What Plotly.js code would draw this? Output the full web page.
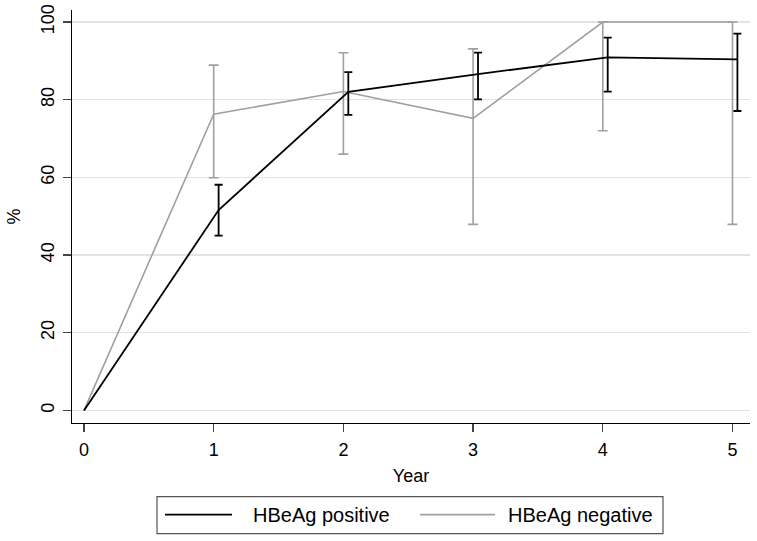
<!DOCTYPE html>
<html><head><meta charset="utf-8">
<script src="https://cdn.plot.ly/plotly-3.0.1.min.js"></script>
<style>html,body{margin:0;padding:0;background:#fff}#c{width:757px;height:541px}</style>
</head><body><div id="c"></div>
<script>
const years = [0, 1, 2, 3, 4, 5];
const seriesNames = ["HBeAg positive", "HBeAg negative"];
const posValues = [0, 51.6, 82.0, 86.6, 90.9, 90.4];
const posUpper  = [0, 58.1, 87.1, 92.1, 96.0, 97.0];
const posLower  = [0, 45.0, 76.1, 80.1, 82.1, 77.1];
const negValues = [0, 76.3, 82.1, 75.2, 100, 100];
const negUpper  = [0, 88.9, 92.1, 93.1, 100, 100];
const negLower  = [0, 59.9, 66.0, 47.9, 72.0, 47.9];
const yTicks = [0, 20, 40, 60, 80, 100];
const xTicks = [0, 1, 2, 3, 4, 5];

const posOffset = 0.038; // horizontal dodge of the positive series
const posX = years.map(v => v === 0 ? 0 : v + posOffset);
const BLACK = '#000000', GRAY = '#a0a0a0';

function errs(vals, up, lo, color, thick, w) {
  const a = up.map((u,i)=>u-vals[i]);
  const m = vals.map((v,i)=>v-lo[i]);
  a[0] = NaN; m[0] = NaN;
  return {type:'data', symmetric:false, array:a, arrayminus:m,
    color: color, thickness: thick, width: w, visible: true};
}
const traces = [
  {x: years, y: negValues, mode:'lines', type:'scatter', name: seriesNames[1],
   line:{color:GRAY, width:1.6}, error_y: errs(negValues, negUpper, negLower, GRAY, 1.6, 5), hoverinfo:'skip'},
  {x: posX, y: posValues, mode:'lines', type:'scatter', name: seriesNames[0],
   line:{color:BLACK, width:1.8}, error_y: errs(posValues, posUpper, posLower, BLACK, 1.8, 4), hoverinfo:'skip'}
];

const W = 678, H = 413.3, L = 72, T = 10;
const px = v => (v - L) / W;
const py = v => (T + H - v) / H;
const font = {family:'Liberation Sans, Arial, sans-serif', color:'#000'};
const f = s => Object.assign({size:s}, font);

const layout = {
  width:757, height:541,
  margin:{l:72, r:7, t:10, b:118, pad:0},
  paper_bgcolor:'#fff', plot_bgcolor:'#fff',
  showlegend:false,
  font: f(18),
  xaxis:{range:[-0.0925, 5.135], tickvals:xTicks, ticktext:xTicks.map(String),
    showgrid:false, zeroline:false, showline:true, linecolor:'#000', linewidth:1.3,
    ticks:'outside', ticklen:8, tickwidth:1.3, tickcolor:'#444',
    ticklabelstandoff:2,
    tickfont:f(18),
    title:{text:'Year', font:f(18), standoff:10}},
  yaxis:{range:[-3.24, 103.1], tickvals:yTicks, ticktext:yTicks.map(String),
    tickangle:-90, showgrid:true, gridcolor:'#e3e3e3', gridwidth:1.5,
    zeroline:false, showline:true, linecolor:'#000', linewidth:1.3,
    ticks:'outside', ticklen:8, tickwidth:1.3, tickcolor:'#444',
    ticklabelstandoff:2,
    tickfont:f(18),
    title:{text:'%', font:f(18), standoff:12}},
  shapes:[
    {type:'rect', xref:'paper', yref:'paper', x0:px(157), x1:px(663), y0:py(497), y1:py(534),
     line:{color:'#555', width:1.2}, fillcolor:'rgba(0,0,0,0)'},
    {type:'line', xref:'paper', yref:'paper', x0:px(165), x1:px(232), y0:py(515), y1:py(515),
     line:{color:BLACK, width:1.8}},
    {type:'line', xref:'paper', yref:'paper', x0:px(420), x1:px(495), y0:py(515), y1:py(515),
     line:{color:GRAY, width:1.6}}
  ],
  annotations:[
    {xref:'paper', yref:'paper', x:px(251), y:py(515), xanchor:'left', yanchor:'middle',
     text:seriesNames[0], showarrow:false, font:f(20)},
    {xref:'paper', yref:'paper', x:px(506), y:py(515), xanchor:'left', yanchor:'middle',
     text:seriesNames[1], showarrow:false, font:f(20)}
  ]
};
Plotly.newPlot('c', traces, layout, {staticPlot:true, displayModeBar:false});
</script></body></html>
